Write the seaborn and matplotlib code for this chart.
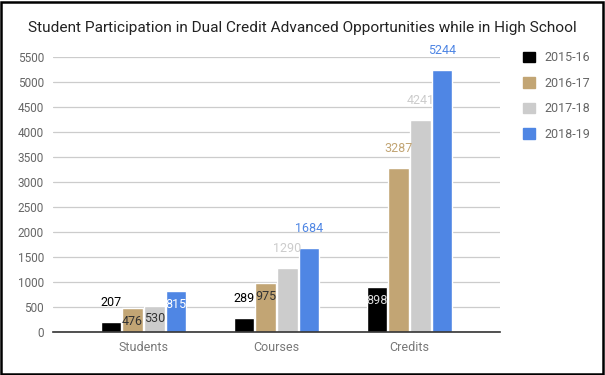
import matplotlib as mpl
import matplotlib.pyplot as plt
from matplotlib.patches import Patch, Rectangle
import pandas as pd
import seaborn as sns

# data
categories = ['Students', 'Courses', 'Credits']
years = ['2015-16', '2016-17', '2017-18', '2018-19']
values_1516 = [207, 289, 898]
values_1617 = [476, 975, 3287]
values_1718 = [530, 1290, 4241]
values_1819 = [815, 1684, 5244]
y_ticks = list(range(0, 5501, 500))

series = [values_1516, values_1617, values_1718, values_1819]
df = pd.DataFrame({
    'Category': [c for _ in years for c in categories],
    'Year': [y for y in years for _ in categories],
    'Value': [v for s in series for v in s],
})

colors = ['#000000', '#c2a574', '#cccccc', '#4f86e4']
# where Google put each value label ('in' = inside the top of the bar) and its colour
label_place = [['out', 'out', 'in'],
               ['in', 'in', 'out'],
               ['in', 'out', 'out'],
               ['in', 'out', 'out']]
label_color = [['#000000', '#000000', '#dddddd'],
               ['#333333', '#333333', '#c2a574'],
               ['#333333', '#cccccc', '#cccccc'],
               ['#ffffff', '#4f86e4', '#4f86e4']]

sns.set_style('white')
plt.rcParams['font.family'] = ['Roboto', 'DejaVu Sans']

fig = plt.figure(figsize=(6.05, 3.75), dpi=100)
ax = fig.add_axes([53 / 605, 1 - 332.3 / 375, 447 / 605, 275.6 / 375])

sns.barplot(data=df, x='Category', y='Value', hue='Year', order=categories,
            hue_order=years, palette=colors, width=0.655, gap=0.06,
            saturation=1, legend=False, ax=ax)

ax.set_xlim(-0.68, 2.68)
ax.set_ylim(0, 5500)
ax.set_yticks(y_ticks)
ax.set_yticklabels([str(t) for t in y_ticks])
ax.set_xlabel('')
ax.set_ylabel('')
ax.grid(axis='y', color='#cccccc', linewidth=0.9)
ax.set_axisbelow(True)
for side in ['top', 'right', 'left']:
    ax.spines[side].set_visible(False)
ax.spines['bottom'].set_color('#333333')
ax.spines['bottom'].set_linewidth(1.2)
ax.tick_params(axis='y', labelsize=8.5, labelcolor='#666666', length=0, pad=6.5)
ax.tick_params(axis='x', labelsize=9, labelcolor='#777777', length=0, pad=6)

# value labels
for i, cont in enumerate(ax.containers):
    for j, bar in enumerate(cont):
        top = bar.get_height()
        dy = 19 if label_place[i][j] == 'out' else -13
        ax.annotate(str(series[i][j]),
                    xy=(bar.get_x() + bar.get_width() / 2, top),
                    xytext=(0, dy), textcoords='offset pixels',
                    ha='center', va='center', fontsize=9,
                    color=label_color[i][j])

fig.suptitle('Student Participation in Dual Credit Advanced Opportunities while in High School',
             x=0.5, y=1 - 28 / 375, va='center', fontsize=11.1, color='#222222')

handles = [Patch(facecolor=c, edgecolor=c) for c in colors]
fig.legend(handles, years, loc='upper left', bbox_to_anchor=(512 / 605, 1 - 40 / 375),
           frameon=False, fontsize=9, labelcolor='#666666', handlelength=0.9,
           handleheight=0.9, handletextpad=0.8, labelspacing=1.0)

fig.patches.append(Rectangle((0.002, 0.004), 0.994, 0.99, transform=fig.transFigure,
                             fill=False, edgecolor='black', linewidth=1.8))

fig.savefig('out.png', dpi=100)
